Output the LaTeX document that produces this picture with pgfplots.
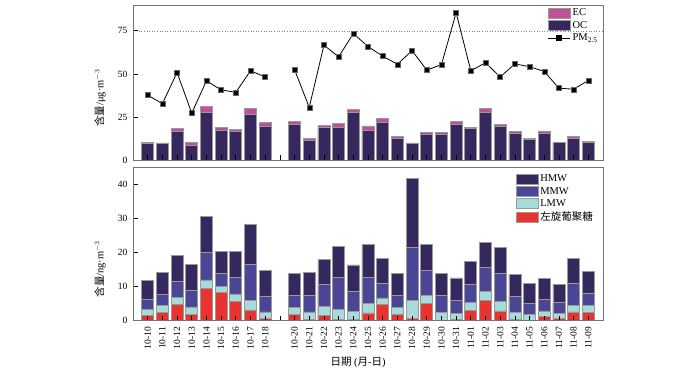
\documentclass[border=0pt]{standalone}
\usepackage{fontspec}
\setmainfont{Liberation Serif}
\newfontfamily\cjk{Noto Sans CJK SC}
\usepackage{pgfplots}
\pgfplotsset{compat=1.18}
\usepackage{pgfplotstable}

\definecolor{occ}{HTML}{36275F}
\definecolor{ecc}{HTML}{C0509C}
\definecolor{hmw}{HTML}{34285E}
\definecolor{mmw}{HTML}{4A4595}
\definecolor{lmw}{HTML}{A6DBD9}
\definecolor{lev}{HTML}{E8332E}

% idx OC EC lev LMW MMW HMW (components)
\pgfplotstableread{
x OC EC lev LMW MMW HMW
0 9.8 0.5 1.5 1.8 2.9 5.5
1 9.5 0.4 2.4 2.0 3.3 6.4
2 16.7 1.8 4.7 2.1 4.6 7.6
3 8.5 1.8 1.7 2.3 4.7 7.7
4 27.4 3.6 9.4 2.5 8.1 10.5
5 17.5 1.3 8.2 1.9 3.6 6.5
6 16.7 1.3 5.6 2.2 4.9 7.5
7 26.6 3.4 3.1 2.8 10.6 11.6
8 19.8 2.2 0.5 2.0 4.7 7.4
10 20.8 1.4 1.8 2.1 3.5 6.4
11 11.3 1.4 0.3 2.2 5.0 6.5
12 18.7 1.3 1.5 2.6 6.4 7.3
13 18.7 2.3 0.2 3.0 9.4 9.1
14 27.4 1.8 0.2 2.4 5.9 7.8
15 17.1 2.7 2.2 2.7 7.7 9.8
16 22.0 2.0 4.6 2.0 4.4 7.3
17 12.7 1.0 1.8 2.1 3.4 6.6
18 9.6 0.3 0.6 5.4 15.5 20.2
19 15.1 0.8 5.0 2.4 7.4 7.6
20 15.1 0.8 0.1 2.2 5.0 6.6
21 20.8 1.6 0.2 1.8 4.0 6.5
22 18.3 0.7 3.0 2.3 5.3 6.6
23 27.6 2.4 5.8 2.6 7.1 7.3
24 19.6 1.0 2.8 2.7 8.3 7.7
25 15.7 1.0 0.2 2.1 4.7 6.6
26 11.9 0.8 0.1 1.8 3.2 5.7
27 15.7 1.2 1.1 1.7 3.5 6.1
28 10.0 0.3 0.5 1.6 3.1 5.5
29 12.7 1.2 2.5 2.0 6.5 7.2
30 10.4 0.3 2.4 2.0 3.7 6.3
}\bars

\pgfplotstableread{
x PM
0 37.7
1 32.7
2 50.8
3 27.2
4 46.0
5 40.7
6 39.3
7 51.8
8 48.2
9 nan
10 52.4
11 30.6
12 66.7
13 59.9
14 73.4
15 65.9
16 60.3
17 55.6
18 63.5
19 52.2
20 55.4
21 85.5
22 51.8
23 56.5
24 48.2
25 55.8
26 54.2
27 51.4
28 41.7
29 41.1
30 46.2
}\pmdata

\pgfplotsset{
 common/.style={
  scale only axis, width=470pt, xmin=-1, xmax=31, ymin=0,
  xtick={0,...,30}, tick align=inside, xtick pos=left, ytick pos=left,
  major tick length=5pt, axis line style={black!55, line width=0.7pt},
  tick style={black, line width=0.7pt},
  axis on top=true,
  every tick label/.append style={font=\fontsize{9.5}{10}\selectfont},
  yticklabel style={xshift=-2pt},
  /pgf/number format/assume math mode=true,
  legend cell align=left,
  label style={font=\fontsize{10.5}{12}\selectfont},
 },
 mybar/.style={ybar, bar shift=0pt, bar width=0.82, fill=#1, draw=black!40, line width=0.7pt, forget plot},
 boxleg/.style={legend image code/.code={\draw[fill=#1, draw=black!40, line width=0.6pt] (0pt,-5pt) rectangle (22pt,5pt);}},
}

\begin{document}
\begin{tikzpicture}
\useasboundingbox (0,0) rectangle (700pt,370pt);

\begin{axis}[common, at={(133pt,210pt)}, anchor=south west, height=155pt,
  ymax=90, ytick={0,25,50,75}, xticklabels={},
  ylabel={{\cjk 含量}/μg·m$^{-3}$},
  ylabel style={at={(axis description cs:-0.0702,0.40)}, anchor=center},
  legend style={at={(axis description cs:0.995,0.995)}, anchor=north east, draw=none, fill=none,
    font=\fontsize{10.5}{11}\selectfont, row sep=0pt, inner sep=1pt}]
\addlegendimage{boxleg=ecc}
\addlegendentry{EC}
\addlegendimage{boxleg=occ}
\addlegendentry{OC}
\addlegendimage{legend image code/.code={\draw[black, line width=0.8pt] (0pt,0pt) -- (22pt,0pt); \fill[black] (8.5pt,-2.5pt) rectangle (13.5pt,2.5pt);}}
\addlegendentry{PM\textsubscript{2.5}}

\addplot[forget plot, black!50, dotted, line width=0.6pt] coordinates {(-0.6,75) (31,75)};
\addplot[mybar=ecc] table[x=x, y expr=\thisrow{OC}+\thisrow{EC}] {\bars};
\addplot[mybar=occ] table[x=x, y=OC] {\bars};
\addplot[forget plot, black, line width=0.8pt, unbounded coords=jump, mark=square*, mark size=2.5pt,
  mark options={fill=black, draw=black!60, line width=0.4pt}] table[x=x, y=PM] {\pmdata};
\end{axis}

\begin{axis}[common, at={(133pt,49.5pt)}, anchor=south west, height=153.5pt,
  ymax=45, ytick={0,10,20,30,40},
  xticklabels={10-10,10-11,10-12,10-13,10-14,10-15,10-16,10-17,10-18,{},10-20,10-21,10-22,10-23,10-24,10-25,10-26,10-27,10-28,10-29,10-30,10-31,11-01,11-02,11-03,11-04,11-05,11-06,11-07,11-08,11-09},
  xticklabel style={rotate=90, anchor=east, xshift=-3pt},
  xlabel={{\cjk 日期} ({\cjk 月}-{\cjk 日})},
  xlabel style={at={(axis description cs:0.479,-0.215)}, anchor=north},
  ylabel={{\cjk 含量}/ng·m$^{-3}$},
  ylabel style={at={(axis description cs:-0.0702,0.335)}, anchor=center},
  legend style={at={(axis description cs:0.985,0.97)}, anchor=north east, draw=none, fill=none,
    font=\fontsize{10.5}{11}\selectfont, row sep=0pt, inner sep=1pt}]
\addlegendimage{boxleg=hmw}
\addlegendentry{HMW}
\addlegendimage{boxleg=mmw}
\addlegendentry{MMW}
\addlegendimage{boxleg=lmw}
\addlegendentry{LMW}
\addlegendimage{boxleg=lev}
\addlegendentry{{\cjk 左旋葡聚糖}}

\addplot[mybar=hmw] table[x=x, y expr=\thisrow{lev}+\thisrow{LMW}+\thisrow{MMW}+\thisrow{HMW}] {\bars};
\addplot[mybar=mmw] table[x=x, y expr=\thisrow{lev}+\thisrow{LMW}+\thisrow{MMW}] {\bars};
\addplot[mybar=lmw] table[x=x, y expr=\thisrow{lev}+\thisrow{LMW}] {\bars};
\addplot[mybar=lev] table[x=x, y=lev] {\bars};
\end{axis}
\end{tikzpicture}
\end{document}
